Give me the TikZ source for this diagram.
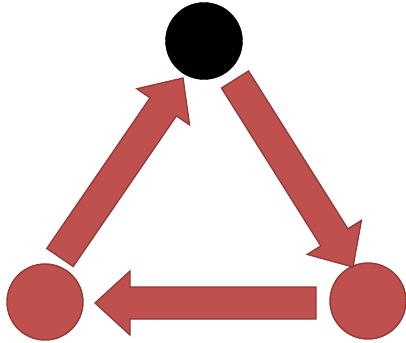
\documentclass[tikz,border=0pt]{standalone}
\usetikzlibrary{calc}
\definecolor{redfill}{HTML}{C0504D}
\definecolor{redline}{HTML}{8C3A37}
\tikzset{
  redball/.style={circle, minimum size=76pt, inner sep=0pt, fill=redfill, draw=redline, line width=1.4pt},
  blackball/.style={circle, minimum size=77pt, inner sep=0pt, fill=black, draw=black},
  blockarr/.style={fill=redfill, draw=redline, line width=1.3pt, line join=miter}
}
\newcommand\myblockarrow[2]{%
  \draw[blockarr]
    ($(#1)!16pt!90:(#2)$) --
    ($($(#2)!35pt!(#1)$)!16pt!90:(#2)$) --
    ($($(#2)!35pt!(#1)$)!32pt!90:(#2)$) --
    (#2) --
    ($($(#2)!35pt!(#1)$)!32pt!-90:(#2)$) --
    ($($(#2)!35pt!(#1)$)!16pt!-90:(#2)$) --
    ($(#1)!16pt!-90:(#2)$) -- cycle;
}
\begin{document}
\begin{tikzpicture}[x=1pt,y=-1pt]
\useasboundingbox (0,0) rectangle (406,342);
\node[blackball] (top) at (204,41) {};
\node[redball] (left) at (45,302) {};
\node[redball] (right) at (368,301) {};
\coordinate (a1) at (60,257.5);
\coordinate (b1) at (183,78);
\coordinate (a2) at (235,79.5);
\coordinate (b2) at (353,267);
\coordinate (a3) at (316,303);
\coordinate (b3) at (95,303);
\myblockarrow{a1}{b1}
\myblockarrow{a2}{b2}
\myblockarrow{a3}{b3}
\end{tikzpicture}
\end{document}
